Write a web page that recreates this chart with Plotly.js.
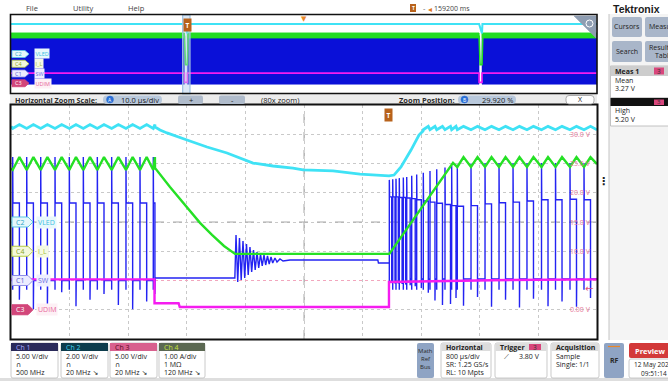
<!DOCTYPE html>
<html>
<head>
<meta charset="utf-8">
<script src="https://cdn.plot.ly/plotly-3.0.1.min.js"></script>
<style>
  html, body { margin: 0; padding: 0; background: #fff; overflow: hidden; }
  #scope { width: 668px; height: 381px; }
</style>
</head>
<body>
<div id="scope"></div>
<script>
// ---------------- channel setup: units per division and marker position (div) ----------------
const chScale = { C1: 5, C2: 2, C3: 5, C4: 1 };
const chPos   = { C1: -2, C2: 0, C3: -3, C4: -1 };
const chName  = { C1: 'SW', C2: 'VLED', C3: 'UDIM', C4: 'I_L' };

// ---------------- zoom window (10 µs/div), time in µs from the left edge ----------------
// SW (C1): switching edges while UDIM is high
const swRiseA  = [0.29, 2.68, 5.07, 7.51, 9.95, 12.34, 14.73, 17.18, 19.62, 22.01, 24.28];
const swFallA  = [1.43, 3.82, 6.21, 8.65, 11.09, 13.48, 15.87, 18.32, 20.76, 23.15, 24.56];
const swUnderA = [-3.3, -4.9, -5.0, -2.0, -4.4, -3.3, -2.3, -4.2, -4.9, -3.6, -2.3];
const swHighA = 13.25, swPeakA = 21.1, swDipA = -1.6, swIdleV = 0.43;
// SW after the inductor current reaches zero (ringing, then hold)
const ringT = [38.20, 38.40, 38.69, 38.99, 39.28, 39.59, 39.88, 40.19, 40.48, 40.78, 41.07, 41.38, 41.67,
               41.98, 42.27, 42.58, 42.87, 43.17, 43.46, 43.77, 44.06, 44.37, 44.66, 45.05, 45.39,
               45.90, 46.42, 47.61, 62.60, 62.70, 64.50];
const ringV = [0.43, 7.78, -0.26, 7.26, 0.09, 6.75, 0.43, 6.24, 0.94, 5.73, 1.45, 5.21, 1.79,
               4.87, 2.14, 4.53, 2.48, 4.36, 2.65, 4.19, 2.82, 4.02, 2.99, 3.85, 3.16,
               3.68, 3.33, 3.50, 3.50, 3.00, 3.00];
// SW: switching edges after UDIM returns high
const swRiseB = [64.56, 65.14, 65.70, 66.26, 66.95, 67.53, 68.38, 69.23, 70.36, 71.50, 72.65, 74.06,
                 75.20, 76.16, 78.50, 80.89, 83.28, 85.67, 88.05, 90.53, 92.92, 95.39, 97.78];
const swFallB = [64.97, 65.53, 66.09, 66.74, 67.35, 68.12, 68.98, 70.02, 71.21, 72.35, 73.63, 75.00,
                 75.94, 77.22, 79.61, 82.00, 84.39, 86.77, 89.16, 91.64, 94.03, 96.50, 98.89];
const swHighB = [14.3, 14.3, 14.3, 14.2, 14.2, 14.1, 14.0, 13.8, 13.6, 13.4, 13.2, 13.0,
                 12.8, 12.7, 12.8, 13.1, 13.3, 13.4, 13.6, 13.8, 13.8, 13.9, 13.8];
const swPeakB = [17.2, 17.3, 17.4, 17.5, 17.6, 17.7, 17.9, 18.1, 18.4, 18.7, 19.0, 19.3,
                 19.6, 19.8, 20.0, 20.1, 20.1, 20.1, 20.1, 20.1, 20.1, 20.1, 20.1];
const swUnderB = [-0.4, -0.5, -0.5, -0.6, -0.7, -0.8, -1.0, -1.3, -2.1, -3.4, -4.2, -4.0,
                  -3.0, -4.3, -2.8, -4.5, -3.3, -4.6, -3.1, -4.4, -3.6, -4.5, -3.0];
const swLowB = 0.26;

// VLED (C2)
const vledRippleA = [6.40, 6.66];   // [at turn-on, at turn-off]
const vledT = [24.57, 25.43, 26.62, 30.03, 33.45, 36.86, 39.08, 41.30, 44.71, 48.12, 49.83, 54.95,
               59.56, 64.51, 65.36, 66.55, 68.26, 69.62, 70.31];
const vledV = [6.50, 6.29, 6.09, 5.61, 5.13, 4.72, 4.38, 4.03, 3.83, 3.69, 3.56, 3.49,
               3.28, 3.15, 3.21, 3.76, 4.92, 5.95, 6.22];
const vledRippleB = [6.31, 6.54];

// I_L (C4), amps
const ilRippleA = [2.78, 3.22];     // [valley, peak]
const ilT = [24.57, 27.13, 29.69, 32.25, 34.30, 36.35, 38.23, 64.56, 75.43];
const ilA = [2.85, 2.20, 1.58, 0.97, 0.56, 0.18, -0.09, -0.09, 3.02];
const ilRippleB = [2.88, 3.22];

// UDIM (C3)
const udimT = [0, 24.49, 24.49, 28.6, 28.8, 64.50, 64.50, 72.0, 82.0, 100];
const udimV = [5.20, 5.20, 1.10, 1.10, 0.47, 0.47, 4.75, 4.90, 5.05, 5.20];

// C3 graticule labels (volts) and trigger
const c3Labels = [30, 25, 20, 15, 10, 0];
const trigLevelV = 3.80;
const trigUs = 64.4;

// ---------------- overview record (800 µs/div, 8 ms) ----------------
const recordUs = 8000;
const zoomPosPct = 29.920;
const zoomSpanUs = 100;
const ovDimStart = [2368, 6390];
const ovDimLen = 40;
const ovSwEnv = [-5.5, 18.2];
const ovIlEnv = [2.65, 3.15];
const ovIlDim = -0.09;
const ovVled = [6.15, 4.2];
const ovUdim = [5.20, 0.47];

// ---------------- helpers ----------------
const W = 668, H = 381;
const FONT = "'Open Sans', 'Noto Sans', 'DejaVu Sans', sans-serif";
const PX = x => x / W;
const PY = y => 1 - y / H;
const P = (x, y) => PX(x).toFixed(5) + ',' + PY(y).toFixed(5);
const MAIN = { x0: 11, x1: 597, y0: 105, y1: 339 };
const OV = { x0: 11, x1: 597, y0: 15, y1: 93 };
const mainDivY = d => (MAIN.y0 + MAIN.y1) / 2 - d * (MAIN.y1 - MAIN.y0) / 8;
const ovDivY = d => (OV.y0 + OV.y1) / 2 - d * (OV.y1 - OV.y0) / 8;
const toDiv = (ch, v) => chPos[ch] + v / chScale[ch];

const shapes = [];
const annos = [];
function rect(x0, y0, x1, y1, fill, line, lw, layer) {
  shapes.push({ type: 'rect', xref: 'paper', yref: 'paper',
    x0: PX(x0), x1: PX(x1), y0: PY(y1), y1: PY(y0),
    fillcolor: fill || 'rgba(0,0,0,0)',
    line: { color: line || 'rgba(0,0,0,0)', width: line ? (lw || 1) : 0 },
    layer: layer || 'above' });
}
function rrect(x0, y0, x1, y1, r, fill, line, lw, layer) {
  const path = 'M' + P(x0 + r, y0) + ' L' + P(x1 - r, y0) + ' Q' + P(x1, y0) + ' ' + P(x1, y0 + r) +
    ' L' + P(x1, y1 - r) + ' Q' + P(x1, y1) + ' ' + P(x1 - r, y1) +
    ' L' + P(x0 + r, y1) + ' Q' + P(x0, y1) + ' ' + P(x0, y1 - r) +
    ' L' + P(x0, y0 + r) + ' Q' + P(x0, y0) + ' ' + P(x0 + r, y0) + ' Z';
  shapes.push({ type: 'path', xref: 'paper', yref: 'paper', path,
    fillcolor: fill || 'rgba(0,0,0,0)',
    line: { color: line || 'rgba(0,0,0,0)', width: line ? (lw || 1) : 0 },
    layer: layer || 'above' });
}
function poly(pts, fill, line, lw) {
  const path = 'M' + pts.map(p => P(p[0], p[1])).join(' L') + ' Z';
  shapes.push({ type: 'path', xref: 'paper', yref: 'paper', path,
    fillcolor: fill, line: { color: line || fill, width: lw || 0.5 }, layer: 'above' });
}
function text(x, y, s, o) {
  o = o || {};
  const a = { xref: 'paper', yref: 'paper', x: PX(x), y: PY(y), text: s, showarrow: false,
    xanchor: o.anchor || 'left', yanchor: 'middle',
    font: { family: o.family || FONT, size: o.size || 7.5, color: o.color || '#222' } };
  if (o.bg) { a.bgcolor = o.bg; a.borderpad = o.pad === undefined ? 0.5 : o.pad; }
  annos.push(a);
}

// ---------------- waveform assembly ----------------
function buildSW() {
  const t = [], v = [];
  const p = (a, b) => { t.push(a); v.push(b); };
  let low = 0;
  p(0, low);
  swRiseA.forEach((r, i) => {
    const f = swFallA[i];
    p(r, low); p(r, swDipA); p(r, swPeakA); p(r + 0.04, swHighA);
    p(f, swHighA); p(f, swUnderA[i]); p(f + 0.04, i === swRiseA.length - 1 ? swIdleV : 0);
  });
  ringT.forEach((r, i) => p(r, ringV[i]));
  low = ringV[ringV.length - 1];
  swRiseB.forEach((r, i) => {
    const f = swFallB[i];
    p(r, low); p(r, swDipA); p(r, swPeakB[i]); p(r + 0.04, swHighB[i]);
    p(f, swHighB[i]); p(f, swUnderB[i]); p(f + 0.04, swLowB);
    low = swLowB;
  });
  p(100, swLowB);
  return { t, v };
}
function buildVLED() {
  const t = [], v = [];
  const p = (a, b) => { t.push(a); v.push(b); };
  p(0, (vledRippleA[0] + vledRippleA[1]) / 2);
  swRiseA.forEach((r, i) => { p(r, vledRippleA[0]); p(swFallA[i], vledRippleA[1]); });
  vledT.forEach((r, i) => p(r, vledV[i]));
  swRiseB.forEach((r, i) => {
    if (r <= vledT[vledT.length - 1]) return;
    p(r, vledRippleB[0]); p(swFallB[i], vledRippleB[1]);
  });
  p(100, vledRippleB[0]);
  return { t, v };
}
function buildIL() {
  const t = [], v = [];
  const p = (a, b) => { t.push(a); v.push(b); };
  p(0, ilRippleA[0] + 0.05);
  swRiseA.forEach((r, i) => {
    p(r, ilRippleA[0]);
    if (swFallA[i] < ilT[0]) p(swFallA[i], ilRippleA[1]);
  });
  ilT.forEach((r, i) => p(r, ilA[i]));
  swRiseB.forEach((r, i) => {
    if (r <= ilT[ilT.length - 1]) return;
    p(r, ilRippleB[0]); p(swFallB[i], ilRippleB[1]);
  });
  p(100, ilRippleB[0] + 0.1);
  return { t, v };
}

const sw = buildSW(), vled = buildVLED(), il = buildIL();

const traces = [];
// dotted reference level at the SW marker
shapes.push({ type: 'line', xref: 'x', yref: 'y', x0: 0, x1: 100, y0: chPos.C1, y1: chPos.C1,
  line: { color: '#f2a6bd', width: 1.2, dash: 'dot' }, layer: 'between' });
// graticule centre cross
shapes.push({ type: 'line', xref: 'x', yref: 'y', x0: 50, x1: 50, y0: -4, y1: 4,
  line: { color: '#a8a8a8', width: 1, dash: 'dash' }, layer: 'between' });
shapes.push({ type: 'line', xref: 'x', yref: 'y', x0: 0, x1: 100, y0: 0, y1: 0,
  line: { color: '#a8a8a8', width: 1, dash: 'dash' }, layer: 'between' });

traces.push({ x: sw.t, y: sw.v.map(v => toDiv('C1', v)), mode: 'lines', xaxis: 'x', yaxis: 'y',
  line: { color: '#2323f2', width: 1.4 }, hoverinfo: 'skip' });
traces.push({ x: udimT, y: udimV.map(v => toDiv('C3', v)), mode: 'lines', xaxis: 'x', yaxis: 'y',
  line: { color: '#f51cf0', width: 2.4 }, hoverinfo: 'skip' });
traces.push({ x: il.t, y: il.v.map(v => toDiv('C4', v)), mode: 'lines', xaxis: 'x', yaxis: 'y',
  line: { color: '#25e025', width: 2.4 }, hoverinfo: 'skip' });
traces.push({ x: vled.t, y: vled.v.map(v => toDiv('C2', v)), mode: 'lines', xaxis: 'x', yaxis: 'y',
  line: { color: '#3fe2f5', width: 2.8 }, hoverinfo: 'skip' });

// ---------------- overview traces ----------------
const ovRuns = [];
{
  let a = 0;
  ovDimStart.forEach(s => { ovRuns.push([a, s]); a = s + ovDimLen; });
  ovRuns.push([a, recordUs]);
}
function bandPoly(lo, hi, ch) {
  const x = [], y = [];
  ovRuns.forEach(([a, b]) => {
    x.push(a, b, b, a, a, null);
    y.push(toDiv(ch, lo), toDiv(ch, lo), toDiv(ch, hi), toDiv(ch, hi), toDiv(ch, lo), null);
  });
  return { x, y };
}
const ovBlue = bandPoly(ovSwEnv[0], ovSwEnv[1], 'C1');
traces.push({ x: ovBlue.x, y: ovBlue.y, xaxis: 'x2', yaxis: 'y2', mode: 'lines', fill: 'toself',
  fillcolor: '#0a10d8', line: { color: '#0a10d8', width: 0.5 }, hoverinfo: 'skip' });
const ovGreen = bandPoly(ovIlEnv[0], ovIlEnv[1], 'C4');
traces.push({ x: ovGreen.x, y: ovGreen.y, xaxis: 'x2', yaxis: 'y2', mode: 'lines', fill: 'toself',
  fillcolor: '#22dd22', line: { color: '#22dd22', width: 1 }, hoverinfo: 'skip' });
{
  const x = [], y = [];
  const mid = (ovIlEnv[0] + ovIlEnv[1]) / 2;
  ovDimStart.forEach(s => {
    x.push(s, s + 14, s + ovDimLen, s + ovDimLen + 11, null);
    y.push(toDiv('C4', mid), toDiv('C4', ovIlDim), toDiv('C4', ovIlDim), toDiv('C4', mid), null);
  });
  traces.push({ x, y, xaxis: 'x2', yaxis: 'y2', mode: 'lines',
    line: { color: '#22dd22', width: 1.6 }, hoverinfo: 'skip' });
}
{
  const xm = [0], ym = [toDiv('C3', ovUdim[0])];
  const xc = [0], yc = [toDiv('C2', ovVled[0])];
  ovDimStart.forEach(s => {
    xm.push(s, s, s + ovDimLen, s + ovDimLen);
    ym.push(toDiv('C3', ovUdim[0]), toDiv('C3', ovUdim[1]), toDiv('C3', ovUdim[1]), toDiv('C3', ovUdim[0]));
    xc.push(s, s + ovDimLen, s + ovDimLen + 6);
    yc.push(toDiv('C2', ovVled[0]), toDiv('C2', ovVled[1]), toDiv('C2', ovVled[0]));
  });
  xm.push(recordUs); ym.push(toDiv('C3', ovUdim[0]));
  xc.push(recordUs); yc.push(toDiv('C2', ovVled[0]));
  traces.push({ x: xm, y: ym, xaxis: 'x2', yaxis: 'y2', mode: 'lines',
    line: { color: '#f51cf0', width: 1.6 }, hoverinfo: 'skip' });
  traces.push({ x: xc, y: yc, xaxis: 'x2', yaxis: 'y2', mode: 'lines',
    line: { color: '#3fe2f5', width: 2 }, hoverinfo: 'skip' });
}

// ---------------- decorations ----------------
// right-hand panel and bottom strip backgrounds
rect(609, 14, 668, 340, '#f4f4f4', null, 0, 'below');
shapes.push({ type: 'line', xref: 'paper', yref: 'paper', x0: PX(609), x1: PX(609), y0: PY(340), y1: PY(14),
  line: { color: '#c4c4c4', width: 1 }, layer: 'below' });
rect(0, 378, 668, 381, '#dedede', null, 0, 'below');

// zoom window on the overview
const zoomCentre = recordUs * zoomPosPct / 100;
shapes.push({ type: 'rect', xref: 'x2', yref: 'paper', x0: zoomCentre - zoomSpanUs / 2, x1: zoomCentre + zoomSpanUs / 2,
  y0: PY(94), y1: PY(15), fillcolor: 'rgba(175,205,235,0.45)', line: { color: '#9fc0e0', width: 1.2 }, layer: 'above' });

// overview corner icon
poly([[574, 16], [596, 16], [596, 38]], '#8e9db2');
shapes.push({ type: 'circle', xref: 'paper', yref: 'paper', x0: PX(586), x1: PX(593), y0: PY(27), y1: PY(20),
  line: { color: '#ffffff', width: 1 }, layer: 'above' });

// frames
rect(10.5, 14.5, 597, 93.5, null, '#111', 1.6);
rect(10, 94, 597, 104.5, '#ececec', null, 0, 'below');
rect(10.5, 104.5, 597.5, 339.5, null, '#111', 2);

// top menu
text(24, 8, 'File', { color: '#444' });
text(71, 8, 'Utility', { color: '#444' });
text(126, 8, 'Help', { color: '#444' });
rect(410, 4, 416, 12, '#b8621b');
text(413, 8, '<b>T</b>', { anchor: 'center', size: 5, color: '#fff' });
text(421, 8, '-', { color: '#666' });
text(426, 8, '◂', { color: '#e07a1e', size: 8 });
text(432, 8, '159200 ms', { color: '#444', size: 7 });
text(611, 9, '<b>Tektronix</b>', { size: 10.5, color: '#1c1c1c', family: "'Liberation Sans', Arial, sans-serif" });

// zoom bar
text(13, 99.5, '<b>Horizontal Zoom Scale:</b>', { size: 7.2, color: '#2a2a2a' });
rrect(103, 95.5, 162, 104, 4, '#b9c9dc');
shapes.push({ type: 'circle', xref: 'paper', yref: 'paper', x0: PX(106.5), x1: PX(113.5), y0: PY(103), y1: PY(96),
  fillcolor: '#2a6fd6', line: { color: '#2a6fd6', width: 0.5 }, layer: 'above' });
text(110, 99.5, 'A', { anchor: 'center', size: 5, color: '#fff' });
text(119, 99.5, '10.0 µs/div', { size: 7.5 });
rrect(178, 95.5, 203, 104, 2, '#b0bccc');
text(190.5, 99.5, '+', { anchor: 'center', size: 7.5 });
rrect(219, 95.5, 245, 104, 2, '#b0bccc');
text(232, 99.5, '-', { anchor: 'center', size: 7.5 });
text(259, 99.5, '(80x zoom)', { size: 7.5 });
text(397, 99.5, '<b>Zoom Position:</b>', { size: 7.5, color: '#2a2a2a' });
rrect(458, 95.5, 516, 104, 4, '#b9c9dc');
shapes.push({ type: 'circle', xref: 'paper', yref: 'paper', x0: PX(461), x1: PX(468), y0: PY(103), y1: PY(96),
  fillcolor: '#2a6fd6', line: { color: '#2a6fd6', width: 0.5 }, layer: 'above' });
text(464.5, 99.5, 'B', { anchor: 'center', size: 5, color: '#fff' });
text(480, 99.5, zoomPosPct.toFixed(3) + ' %', { size: 7.5 });
rrect(566, 95.5, 594, 104, 3, '#ffffff', '#9a9a9a', 0.8);
text(580, 99.5, 'X', { anchor: 'center', size: 7 });

// trigger markers
annos.push({ xref: 'x', yref: 'paper', x: trigUs, y: PY(115), text: '<b>T</b>', showarrow: false,
  xanchor: 'center', yanchor: 'middle', bgcolor: '#b8621b', borderpad: 1.5,
  font: { family: FONT, size: 6.5, color: '#ffffff' } });
annos.push({ xref: 'x2', yref: 'paper', x: zoomCentre - zoomSpanUs / 2 + trigUs, y: PY(25.5), text: '<b>T</b>',
  showarrow: false, xanchor: 'center', yanchor: 'middle', bgcolor: '#b8621b', borderpad: 1.5,
  font: { family: FONT, size: 6.5, color: '#ffffff' } });
annos.push({ xref: 'x2', yref: 'paper', x: recordUs / 2, y: PY(18), text: '▼', showarrow: false,
  xanchor: 'center', yanchor: 'middle', font: { family: FONT, size: 7, color: '#e8872a' } });

// C3 graticule labels and trigger level
c3Labels.forEach(v => {
  annos.push({ xref: 'paper', yref: 'y', x: PX(593), y: toDiv('C3', v), text: (v >= 10 ? v.toFixed(1) : v.toFixed(2)) + ' V',
    showarrow: false, xanchor: 'right', yanchor: 'middle', font: { family: FONT, size: 7, color: '#e6789a' } });
});
annos.push({ xref: 'paper', yref: 'y', x: PX(595), y: toDiv('C3', trigLevelV), text: '←', showarrow: false,
  xanchor: 'right', yanchor: 'middle', font: { family: FONT, size: 10, color: '#e0507a' } });

// channel flags
const flagStyle = {
  C2: { fill: '#e6f7fb', line: '#5bc8e2', txt: '#2aa6c6', lab: '#39bfe0', bg: '#e9f8fc' },
  C4: { fill: '#f3f8dc', line: '#b5cc45', txt: '#8ca61e', lab: '#a6c23a', bg: '#f5f9e3' },
  C1: { fill: '#ececff', line: '#8e8ee6', txt: '#5a5ad0', lab: '#6c6ce0', bg: '#efefff' },
  C3: { fill: '#d2467a', line: '#d2467a', txt: '#ffffff', lab: '#e8679a', bg: '#fdf0f5' }
};
['C2', 'C4', 'C1', 'C3'].forEach(ch => {
  const s = flagStyle[ch];
  const ym = mainDivY(chPos[ch]);
  poly([[12, ym - 5], [28, ym - 5], [33, ym], [28, ym + 5], [12, ym + 5]], s.fill, s.line, 1);
  text(20, ym, ch, { anchor: 'center', size: 7, color: s.txt });
  text(36, ym, chName[ch], { size: 7, color: s.lab, bg: s.bg, pad: 1 });
  const yo = ovDivY(chPos[ch]);
  poly([[12, yo - 3.5], [25, yo - 3.5], [29, yo], [25, yo + 3.5], [12, yo + 3.5]], s.fill, s.line, 0.8);
  text(18.5, yo, ch, { anchor: 'center', size: 5.5, color: s.txt });
  text(34, yo, chName[ch], { size: 5.5, color: s.lab, bg: s.bg, pad: 0.5 });
});

text(603, 180, '<b>⋮</b>', { anchor: 'center', size: 11, color: '#222' });

// right panel buttons and measurements
rrect(612, 17, 642, 37, 2, '#a9b6c9');
text(627, 27, 'Cursors', { anchor: 'center', size: 7 });
rrect(645, 17, 676, 37, 2, '#a9b6c9');
text(647, 27, 'Measure', { size: 7 });
rrect(612, 41, 642, 62, 2, '#a9b6c9');
text(627, 51.5, 'Search', { anchor: 'center', size: 7 });
rrect(645, 41, 676, 62, 2, '#a9b6c9');
text(647, 47.5, 'Results', { size: 7 });
text(653, 55.5, 'Table', { size: 7 });
rect(610.5, 66, 670, 98, '#ffffff', '#b4b4b4', 0.8);
rect(610.5, 66, 670, 76, '#cdcdcd');
text(613, 71, '<b>Meas 1</b>', { size: 7 });
rect(654, 67.5, 664, 74.5, '#d9467c');
text(659, 71, '3', { anchor: 'center', size: 6.5, color: '#333' });
text(613, 80.5, 'Mean', { size: 7 });
text(613, 88.5, '3.27 V', { size: 7 });
rect(610.5, 98, 670, 126, '#ffffff', '#b4b4b4', 0.8);
rect(610.5, 98, 670, 106, '#111111');
rect(654, 99.5, 664, 105, '#d9467c');
text(659, 102.3, '3', { anchor: 'center', size: 6, color: '#333' });
text(613, 111, 'High', { size: 7 });
text(613, 119, '5.20 V', { size: 7 });

// channel setting boxes
const chBoxes = [
  { x0: 11, x1: 58, head: '#2a2a5a', htxt: '#a8a8ff', title: 'Ch 1', lines: ['5.00 V/div', '∩', '500 MHz'] },
  { x0: 61, x1: 108, head: '#0d3c4c', htxt: '#3fd0ef', title: 'Ch 2', lines: ['2.00 V/div', '∩', '20 MHz ↘'] },
  { x0: 110, x1: 157, head: '#d8608e', htxt: '#5a0a22', title: 'Ch 3', lines: ['5.00 V/div', '∩', '20 MHz ↘'] },
  { x0: 159, x1: 205, head: '#5b6852', htxt: '#c6e03c', title: 'Ch 4', lines: ['1.00 A/div', '1 MΩ', '120 MHz ↘'] }
];
chBoxes.forEach(b => {
  rrect(b.x0, 343, b.x1, 378, 2, '#ffffff', '#bcbcbc', 0.8);
  rect(b.x0, 343, b.x1, 351, b.head);
  text(b.x0 + 3, 347, b.title, { size: 7, color: b.htxt });
  b.lines.forEach((s, i) => text(b.x0 + 3, 356.5 + i * 7.8, s, { size: 7 }));
});

// horizontal / trigger / acquisition
rrect(417, 343, 434, 378, 2, '#8fa4c4');
text(425.5, 351, 'Math', { anchor: 'center', size: 6, color: '#2a2a2a' });
text(425.5, 359, 'Ref', { anchor: 'center', size: 6, color: '#2a2a2a' });
text(425.5, 367, 'Bus', { anchor: 'center', size: 6, color: '#2a2a2a' });
[
  { x0: 441, x1: 491, title: 'Horizontal', lines: ['800 µs/div', 'SR: 1.25 GS/s', 'RL: 10 Mpts'] },
  { x0: 495, x1: 547, title: 'Trigger', lines: [] },
  { x0: 551, x1: 599, title: 'Acquisition', lines: ['Sample', 'Single: 1/1'] }
].forEach(b => {
  rrect(b.x0, 343, b.x1, 378, 2, '#ffffff', '#bcbcbc', 0.8);
  rect(b.x0 + 0.5, 343.5, b.x1 - 0.5, 351, '#dcdcdc');
  text(b.x0 + 3, 347, '<b>' + b.title + '</b>', { size: 7 });
  b.lines.forEach((s, i) => text(b.x0 + 3, 356.5 + i * 7.8, s, { size: 7 }));
});
rect(529, 344, 541, 350, '#d9467c');
text(535, 347, '3', { anchor: 'center', size: 6.5, color: '#333' });
text(502, 356.5, '⟋', { size: 7 });
text(542, 356.5, trigLevelV.toFixed(2) + ' V', { anchor: 'right', size: 7 });

rrect(604, 343, 624, 378, 2, '#8fa4c4');
shapes.push({ type: 'line', xref: 'paper', yref: 'paper', x0: PX(608), x1: PX(620), y0: PY(346.5), y1: PY(346.5),
  line: { color: '#e8872a', width: 1.2 }, layer: 'above' });
text(614, 360, '<b>RF</b>', { anchor: 'center', size: 7, color: '#2a2a2a' });
rrect(629, 343, 672, 358, 2, '#d33a3a');
text(650, 350.5, '<b>Preview</b>', { anchor: 'center', size: 7.5, color: '#ffffff' });
rrect(629, 359, 672, 378, 2, '#ffffff', '#bcbcbc', 0.8);
text(632, 364.5, '12 May 2022', { size: 6.5 });
text(654, 373.5, '09:51:14', { anchor: 'center', size: 6.5 });

// ---------------- layout ----------------
const axBase = { showticklabels: false, ticks: '', zeroline: false, showline: false, fixedrange: true };
const layout = {
  width: W, height: H,
  margin: { l: 0, r: 0, t: 0, b: 0 },
  paper_bgcolor: '#ffffff', plot_bgcolor: '#ffffff',
  showlegend: false, hovermode: false,
  xaxis: Object.assign({}, axBase, { domain: [PX(MAIN.x0), PX(MAIN.x1)], range: [0, 100],
    showgrid: true, dtick: 10, tick0: 0, gridcolor: '#c9c9c9', griddash: 'dot', gridwidth: 1, anchor: 'y' }),
  yaxis: Object.assign({}, axBase, { domain: [PY(MAIN.y1), PY(MAIN.y0)], range: [-4, 4],
    showgrid: true, dtick: 1, tick0: 0, gridcolor: '#c9c9c9', griddash: 'dot', gridwidth: 1, anchor: 'x' }),
  xaxis2: Object.assign({}, axBase, { domain: [PX(OV.x0), PX(OV.x1)], range: [0, recordUs],
    showgrid: false, anchor: 'y2' }),
  yaxis2: Object.assign({}, axBase, { domain: [PY(OV.y1), PY(OV.y0)], range: [-4, 4],
    showgrid: false, anchor: 'x2' }),
  shapes, annotations: annos,
  font: { family: FONT, size: 8, color: '#222' }
};

Plotly.newPlot('scope', traces, layout, { staticPlot: true, displayModeBar: false });
</script>
</body>
</html>
